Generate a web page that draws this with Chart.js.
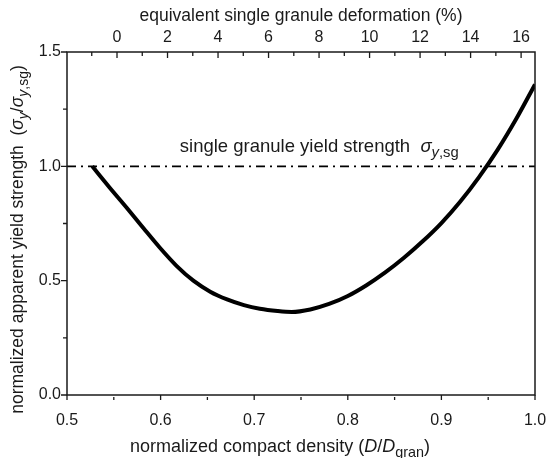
<!DOCTYPE html>
<html>
<head>
<meta charset="utf-8">
<script src="https://cdn.jsdelivr.net/npm/chart.js@4.4.0/dist/chart.umd.min.js"></script>
<style>
  html, body { margin: 0; padding: 0; background: #fff; }
  #wrap { width: 552px; height: 458px; }
</style>
</head>
<body>
<div id="wrap"><canvas id="yieldChart" width="552" height="458"></canvas></div>
<script>
// normalized compact density D/Dgran and the apparent yield strength sigma_y/sigma_y,sg
const density = [0.527, 0.545, 0.564, 0.582, 0.599, 0.617, 0.635, 0.653, 0.671, 0.689, 0.706, 0.725, 0.740,
                 0.760, 0.780, 0.800, 0.820, 0.840, 0.860, 0.880, 0.900, 0.920, 0.940, 0.960, 0.980, 1.000];
const yieldRatio = [1.000, 0.910, 0.818, 0.728, 0.645, 0.565, 0.500, 0.452, 0.418, 0.393, 0.377, 0.367, 0.363,
                    0.374, 0.398, 0.433, 0.480, 0.536, 0.600, 0.672, 0.752, 0.845, 0.952, 1.072, 1.208, 1.358];
const referenceLevel = 1.0; // single granule yield strength

const densityTicks = [0.5, 0.6, 0.7, 0.8, 0.9, 1.0];
const strengthTicks = [0.0, 0.5, 1.0, 1.5];
const deformationTicks = [0, 2, 4, 6, 8, 10, 12, 14, 16];
const deformationRange = [-1.98, 16.55];

const FONT = '"Liberation Sans", Arial, Helvetica, sans-serif';
const INK = '#1a1a1a';

// draws a run of text pieces: {t, it: italic, sub: subscript}
function drawRich(ctx, parts, x, y, size, align) {
  const fontFor = p => (p.it ? 'italic ' : '') + (p.sub ? (size * 0.8).toFixed(1) : size) + 'px ' + FONT;
  let total = 0;
  parts.forEach(p => { ctx.font = fontFor(p); p.w = ctx.measureText(p.t).width; total += p.w; });
  let cx = align === 'center' ? x - total / 2 : x;
  ctx.textAlign = 'left';
  ctx.textBaseline = 'alphabetic';
  parts.forEach(p => {
    ctx.font = fontFor(p);
    ctx.fillText(p.t, cx, y + (p.sub ? size * 0.26 : 0));
    cx += p.w;
  });
}

const frameAndLabels = {
  id: 'frameAndLabels',
  afterDraw(chart) {
    const { ctx, chartArea: a, scales } = chart;
    const x = scales.x, x2 = scales.x2, y = scales.y;
    ctx.save();
    ctx.strokeStyle = INK;
    ctx.lineWidth = 1.5;
    ctx.strokeRect(a.left, a.top, a.right - a.left, a.bottom - a.top);

    ctx.lineWidth = 1.3;
    ctx.beginPath();
    // bottom axis ticks (outward)
    densityTicks.forEach(v => { const p = x.getPixelForValue(v); ctx.moveTo(p, a.bottom); ctx.lineTo(p, a.bottom + 5); });
    for (let i = 0; i < densityTicks.length - 1; i++) {
      const p = x.getPixelForValue((densityTicks[i] + densityTicks[i + 1]) / 2);
      ctx.moveTo(p, a.bottom + 2); ctx.lineTo(p, a.bottom + 5);
    }
    // left axis ticks
    strengthTicks.forEach(v => { const p = y.getPixelForValue(v); ctx.moveTo(a.left - 6, p); ctx.lineTo(a.left, p); });
    for (let i = 0; i < strengthTicks.length - 1; i++) {
      const p = y.getPixelForValue((strengthTicks[i] + strengthTicks[i + 1]) / 2);
      ctx.moveTo(a.left - 4, p); ctx.lineTo(a.left, p);
    }
    // top axis ticks (inward)
    deformationTicks.forEach(v => { const p = x2.getPixelForValue(v); ctx.moveTo(p, a.top); ctx.lineTo(p, a.top + 6); });
    for (let v = deformationTicks[0] - 1; v <= deformationRange[1]; v += 2) {
      const p = x2.getPixelForValue(v); ctx.moveTo(p, a.top); ctx.lineTo(p, a.top + 4);
    }
    ctx.stroke();

    ctx.fillStyle = INK;
    // top title
    drawRich(ctx, [{ t: 'equivalent single granule deformation (%)' }], (a.left + a.right) / 2, 21, 17.5, 'center');
    // bottom title
    drawRich(ctx, [
      { t: 'normalized compact density (' }, { t: 'D', it: true }, { t: '/' }, { t: 'D', it: true },
      { t: 'gran', sub: true }, { t: ')' }
    ], (a.left + a.right) / 2 - 21, 452, 18, 'center');
    // left title, rotated
    ctx.save();
    ctx.translate(23, (a.top + a.bottom) / 2 + 16);
    ctx.rotate(-Math.PI / 2);
    drawRich(ctx, [
      { t: 'normalized apparent yield strength  (' }, { t: 'σ', it: true }, { t: 'y', it: true, sub: true },
      { t: '/' }, { t: 'σ', it: true }, { t: 'y', it: true, sub: true }, { t: ',sg', sub: true }, { t: ')' }
    ], 0, 0, 17.5, 'center');
    ctx.restore();
    // reference line label
    drawRich(ctx, [
      { t: 'single granule yield strength  ' }, { t: 'σ', it: true }, { t: 'y', it: true, sub: true }, { t: ',sg', sub: true }
    ], x.getPixelForValue(0.6205), y.getPixelForValue(referenceLevel) - 14, 18.5, 'left');
    ctx.restore();
  }
};

const tickFont = { family: FONT, size: 16 };
// keep the plot box fixed instead of letting edge labels push it inward
const noEdgePadding = s => { s.paddingLeft = 0; s.paddingRight = 0; };

new Chart(document.getElementById('yieldChart'), {
  type: 'line',
  data: {
    datasets: [
      {
        data: density.map((d, i) => ({ x: d, y: yieldRatio[i] })),
        borderColor: '#000',
        borderWidth: 4,
        pointRadius: 0,
        cubicInterpolationMode: 'monotone',
        order: 0
      },
      {
        data: [{ x: densityTicks[0], y: referenceLevel }, { x: densityTicks[densityTicks.length - 1], y: referenceLevel }],
        borderColor: '#000',
        borderWidth: 1.8,
        borderDash: [9, 5, 2, 5],
        pointRadius: 0,
        order: 1
      }
    ]
  },
  options: {
    responsive: false,
    animation: false,
    devicePixelRatio: 1,
    layout: { padding: { left: 0, right: 17, top: 0, bottom: 0 } },
    plugins: { legend: { display: false }, tooltip: { enabled: false } },
    scales: {
      x: {
        type: 'linear', position: 'bottom', min: 0.5, max: 1.0,
        grid: { display: false, drawTicks: false }, border: { display: false },
        ticks: { stepSize: 0.1, font: tickFont, color: INK, padding: 16, maxRotation: 0,
                 callback: v => v.toFixed(1) },
        afterFit: s => { s.height = 63; noEdgePadding(s); }
      },
      x2: {
        type: 'linear', position: 'top', min: deformationRange[0], max: deformationRange[1],
        grid: { display: false, drawTicks: false }, border: { display: false },
        ticks: { stepSize: 2, includeBounds: false, font: tickFont, color: INK, padding: 5, maxRotation: 0 },
        afterFit: s => { s.height = 52; noEdgePadding(s); }
      },
      y: {
        type: 'linear', min: 0, max: 1.5,
        grid: { display: false, drawTicks: false }, border: { display: false },
        ticks: { stepSize: 0.5, font: tickFont, color: INK, padding: 6, callback: v => v.toFixed(1) },
        afterFit: s => { s.width = 67; s.paddingTop = 0; s.paddingBottom = 0; }
      }
    }
  },
  plugins: [frameAndLabels]
});
</script>
</body>
</html>
